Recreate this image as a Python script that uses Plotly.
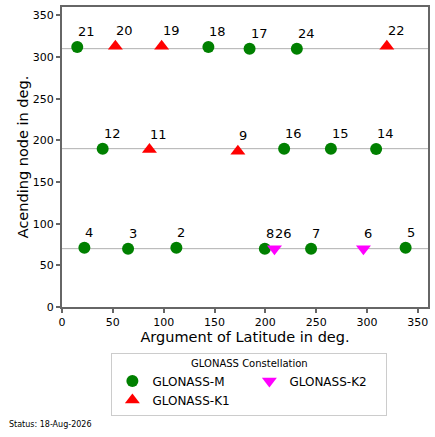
import plotly.graph_objects as go

# --- data ---
m_sat = [21, 18, 17, 24, 12, 16, 15, 14, 4, 3, 2, 8, 7, 5]
m_lat = [15, 144, 184.5, 231, 40, 218.5, 264.5, 309, 22, 65, 112.5, 199.5, 245, 338]
m_node = [312, 312, 310, 310, 190, 190, 190, 189.5, 71, 70, 71, 70, 70, 71]

k1_sat = [20, 19, 22, 11, 9]
k1_lat = [52.5, 98, 319.5, 86, 173]
k1_node = [313, 313, 313, 189, 187]

k2_sat = [26, 6]
k2_lat = [209, 296.5]
k2_node = [70, 70]

planes = [70, 190, 310]
x_ticks = [0, 50, 100, 150, 200, 250, 300, 350]
y_ticks = [0, 50, 100, 150, 200, 250, 300, 350]
status = "Status: 18-Aug-2026"

FONT = "DejaVu Sans"

fig = go.Figure()
fig.add_trace(go.Scatter(x=m_lat, y=m_node, mode="markers", name="GLONASS-M",
                         marker=dict(symbol="circle", size=12, color="green")))
fig.add_trace(go.Scatter(x=k2_lat, y=k2_node, mode="markers", name="GLONASS-K2",
                         marker=dict(symbol="triangle-down", size=13, color="magenta")))
fig.add_trace(go.Scatter(x=k1_lat, y=k1_node, mode="markers", name="GLONASS-K1",
                         marker=dict(symbol="triangle-up", size=13, color="red")))

for p in planes:
    fig.add_shape(type="line", xref="paper", x0=0, x1=1, yref="y", y0=p, y1=p,
                  line=dict(color="#b0b0b0", width=1), layer="below")

annotations = []
for sats, xs, ys in [(m_sat, m_lat, m_node), (k1_sat, k1_lat, k1_node), (k2_sat, k2_lat, k2_node)]:
    for s, x, y in zip(sats, xs, ys):
        annotations.append(dict(x=x, y=y, text=str(s), showarrow=False,
                                xanchor="left", yanchor="bottom", xshift=-1, yshift=6,
                                font=dict(family=FONT, size=13, color="black")))
annotations.append(dict(xref="paper", yref="paper", x=-0.15, y=-0.393, text=status,
                        showarrow=False, xanchor="left", yanchor="middle",
                        font=dict(family=FONT, size=8, color="black")))

axis_common = dict(showline=True, mirror=True, linecolor="#666666", linewidth=2,
                   ticks="outside", ticklen=4, tickwidth=1.5, tickcolor="#666666",
                   showgrid=False, zeroline=False, automargin=False,
                   tickfont=dict(family=FONT, size=11, color="black"))

fig.update_layout(
    width=435, height=437,
    margin=dict(l=62, r=7, t=7, b=130, autoexpand=False),
    paper_bgcolor="white", plot_bgcolor="white",
    font=dict(family=FONT, color="black"),
    showlegend=True,
    xaxis=dict(range=[0, 360], tickvals=x_ticks,
               title=dict(text="Argument of Latitude in deg.", font=dict(family=FONT, size=14.5), standoff=1),
               **axis_common),
    yaxis=dict(range=[0, 360], tickvals=y_ticks,
               title=dict(text="Acending node in deg.", font=dict(family=FONT, size=14.5), standoff=1),
               **axis_common),
    legend=dict(orientation="h", x=0.512, xanchor="center", y=-0.152, yanchor="top",
                entrywidth=92, entrywidthmode="pixels",
                bordercolor="#cccccc", borderwidth=1, bgcolor="white",
                font=dict(family=FONT, size=12, color="black"),
                title=dict(text="GLONASS Constellation", side="top center",
                           font=dict(family=FONT, size=10))),
    annotations=annotations,
)

fig.write_html("out.html", config={"displayModeBar": False},
               post_script="document.body.style.margin='0';")
